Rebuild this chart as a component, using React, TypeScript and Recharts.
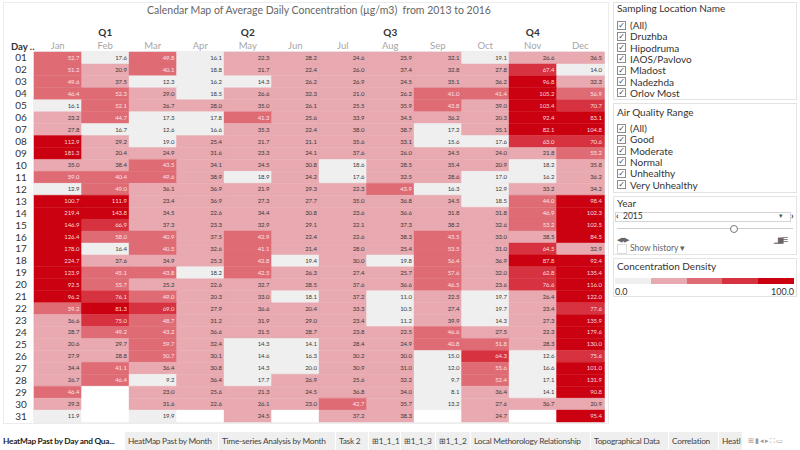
import React from 'react'
import { BarChart, Bar, XAxis, YAxis, Cell, LabelList, ReferenceArea } from 'recharts'

const FONT = 'Lato, "Open Sans", sans-serif'

const months = ['Jan', 'Feb', 'Mar', 'Apr', 'May', 'Jun', 'Jul', 'Aug', 'Sep', 'Oct', 'Nov', 'Dec']
const quarters = [
  { name: 'Q1', from: 'Jan', to: 'Mar' },
  { name: 'Q2', from: 'Apr', to: 'Jun' },
  { name: 'Q3', from: 'Jul', to: 'Sep' },
  { name: 'Q4', from: 'Oct', to: 'Dec' },
]
const days = ['01', '02', '03', '04', '05', '06', '07', '08', '09', '10', '11', '12', '13', '14', '15', '16',
  '17', '18', '19', '20', '21', '22', '23', '24', '25', '26', '27', '28', '29', '30', '31']

// average daily concentration, one list per month (null = no such day)
const jan = [52.7, 51.2, 49.6, 46.4, 16.1, 23.2, 27.8, 112.9, 181.3, 35.0, 59.0, 12.9, 100.7, 219.4, 146.9, 126.4,
  178.0, 224.7, 123.9, 92.5, 96.2, 59.2, 36.6, 28.7, 20.6, 27.9, 34.4, 26.7, 46.4, 29.3, 11.9]
const feb = [17.6, 20.9, 37.5, 52.3, 52.1, 44.7, 16.7, 29.2, 20.4, 38.4, 40.4, 49.0, 111.9, 143.8, 66.9, 58.0,
  16.4, 37.6, 45.1, 55.7, 76.1, 81.3, 75.0, 49.2, 29.7, 28.8, 41.1, 46.4, null, null, null]
const mar = [49.8, 40.1, 12.3, 29.0, 26.7, 17.3, 12.6, 19.0, 24.9, 43.5, 49.6, 36.1, 23.4, 34.5, 37.3, 40.9,
  40.5, 34.9, 43.8, 25.2, 49.0, 69.0, 48.7, 43.2, 59.7, 50.7, 36.4, 9.2, 23.0, 31.6, 19.9]
const apr = [16.1, 18.8, 16.2, 18.5, 28.0, 17.8, 16.6, 25.4, 31.6, 34.1, 38.9, 36.9, 36.9, 22.6, 23.3, 37.5,
  32.6, 25.3, 18.2, 22.6, 20.3, 27.9, 31.2, 36.6, 32.4, 30.1, 30.8, 36.4, 25.6, 22.6, null]
const may = [22.3, 21.7, 14.3, 26.6, 35.0, 41.3, 35.3, 21.7, 23.3, 24.5, 18.9, 21.9, 27.3, 34.4, 32.9, 42.9,
  41.1, 42.8, 42.5, 32.7, 33.0, 36.6, 31.9, 31.5, 14.3, 14.6, 14.3, 17.7, 21.3, 26.1, 24.5]
const jun = [28.2, 22.4, 26.2, 32.3, 26.1, 25.6, 22.4, 21.1, 24.1, 30.8, 24.2, 29.3, 27.7, 30.8, 29.1, 22.4,
  21.4, 19.4, 26.3, 28.5, 18.1, 20.4, 29.0, 28.7, 14.1, 16.3, 19.97, 26.9, 24.5, 23.0, null]
const jul = [24.6, 26.0, 26.9, 21.0, 25.5, 33.9, 38.0, 35.6, 37.6, 18.6, 17.6, 22.3, 35.0, 23.6, 22.1, 22.6,
  28.0, 30.0, 27.4, 37.6, 37.2, 33.3, 23.4, 23.8, 28.4, 30.2, 30.9, 25.6, 36.8, 42.7, 37.2]
const aug = [25.9, 37.4, 24.5, 26.2, 35.9, 34.5, 38.7, 33.1, 26.0, 28.5, 32.5, 43.9, 36.8, 36.6, 37.3, 38.3,
  25.4, 19.8, 25.7, 36.6, 11.0, 10.5, 11.2, 22.5, 24.9, 30.0, 31.0, 32.2, 34.0, 35.7, 38.3]
const sep = [32.1, 32.8, 35.1, 41.0, 43.8, 36.2, 17.2, 15.6, 24.5, 35.4, 28.6, 16.3, 24.5, 31.8, 38.2, 43.5,
  53.5, 56.4, 57.6, 46.5, 22.5, 27.4, 39.9, 46.6, 40.8, 15.0, 12.0, 9.7, 8.1, 13.2, null]
const oct = [19.1, 27.8, 36.2, 41.4, 39.0, 20.3, 35.1, 17.6, 24.0, 20.9, 17.0, 12.9, 18.5, 31.8, 32.6, 33.0,
  31.0, 36.9, 32.0, 23.6, 19.7, 19.7, 14.3, 27.5, 51.8, 64.3, 55.6, 52.4, 36.4, 27.6, 24.7]
const nov = [26.6, 67.4, 96.8, 105.2, 103.4, 92.4, 82.1, 63.0, 21.8, 18.2, 16.2, 33.2, 44.0, 46.9, 53.2, 38.5,
  64.5, 87.8, 62.8, 76.6, 26.4, 23.4, 27.3, 22.3, 28.3, 12.6, 16.6, 17.1, 14.1, 36.7, null]
const dec = [36.5, 14.0, 32.3, 56.9, 70.7, 83.1, 104.8, 70.6, 55.2, 35.8, 36.2, 34.2, 98.4, 102.3, 102.5, 84.5,
  32.9, 92.4, 135.4, 116.0, 122.0, 77.6, 135.9, 179.6, 130.0, 75.6, 101.0, 131.9, 90.8, 20.9, 95.4]
const monthValues = [jan, feb, mar, apr, may, jun, jul, aug, sep, oct, nov, dec]

const binEdges = [20, 40, 60, 80]
const binColors = ['#efefef', '#e8a9b0', '#df6b74', '#d6323f', '#cb0010']

const locations = ['(All)', 'Druzhba', 'Hipodruma', 'IAOS/Pavlovo', 'Mladost', 'Nadezhda', 'Orlov Most']
const aqRanges = ['(All)', 'Good', 'Moderate', 'Normal', 'Unhealthy', 'Very Unhealthy']
const tabs = [
  { label: 'HeatMap Past by Day and Qua...', left: 0, width: 125, active: true },
  { label: 'HeatMap Past by Month', left: 125, width: 93 },
  { label: 'Time-series Analysis by Month', left: 219, width: 116 },
  { label: 'Task 2', left: 336, width: 32 },
  { label: '⊞1_1_1', left: 369, width: 31 },
  { label: '⊞1_1_3', left: 401, width: 34 },
  { label: '⊞1_1_2', left: 436, width: 34 },
  { label: 'Local Methorology Relationship', left: 471, width: 119 },
  { label: 'Topographical Data', left: 591, width: 77 },
  { label: 'Correlation', left: 669, width: 49 },
  { label: 'Heatl', left: 719, width: 23 },
]

function binOf(v: number) {
  let b = 0
  while (b < binEdges.length && v >= binEdges[b]) b++
  return b
}
function colorFor(v: number | null) {
  return v == null ? '#ffffff' : binColors[binOf(v)]
}

// one row per month; every day is a unit segment of the stack, concentration kept alongside
const rows = months.map((m, mi) => {
  const row: Record<string, any> = { month: m }
  days.forEach((d, di) => {
    row['d' + d] = 1
    row['c' + d] = monthValues[mi][di]
  })
  return row
})

const dayTicks = days.map((_, i) => i + 0.5)

const renderCellLabel = (p: any) => {
  if (p.value == null) return null
  const dark = binOf(p.value) >= 2
  return (
    <text x={p.x + p.width - 2.5} y={p.y + p.height / 2} dy={2} textAnchor="end" fontSize={6}
      fontFamily={FONT} fill={dark ? 'rgba(255,255,255,0.85)' : '#3a3a3a'}>
      {p.value.toFixed(1)}
    </text>
  )
}

const MonthTick = (p: any) => (
  <text x={p.x} y={p.y - 3} textAnchor="middle" fontSize={9.5} fontFamily={FONT} fill="#a6a6a6">
    {p.payload.value}
  </text>
)

const DayTick = (p: any) => (
  <text x={p.x - 13} y={p.y} dy={3.5} textAnchor="middle" fontSize={10} fontFamily={FONT} fill="#333">
    {days[Math.floor(p.payload.value)]}
  </text>
)

function Check({ top, label }: { top: number, label: string }) {
  return (
    <div style={{ position: 'absolute', left: 617, top: top - 6, height: 12, display: 'flex', alignItems: 'center', fontSize: 10, color: '#333', whiteSpace: 'nowrap' }}>
      <span style={{ width: 9, height: 9, border: '1px solid #8c8c8c', boxSizing: 'border-box', fontSize: 8, lineHeight: '8px', textAlign: 'center', marginRight: 4, color: '#444', fontFamily: 'DejaVu Sans' }}>✓</span>
      <span>{label}</span>
    </div>
  )
}

const box = (top: number, height: number): React.CSSProperties => ({
  position: 'absolute', left: 613, top, width: 184, height, border: '1px solid #e3e3e3', boxSizing: 'border-box', background: '#fff',
})
const boxTitle = (top: number): React.CSSProperties => ({
  position: 'absolute', left: 617, top: top - 7, fontSize: 10, color: '#333', whiteSpace: 'nowrap',
})

export default function App() {
  return (
    <div style={{ position: 'absolute', left: 0, top: 0, width: 800, height: 450, background: '#fff', fontFamily: FONT, overflow: 'hidden' }}>
      <div style={{ position: 'absolute', left: 3, top: 2, width: 606, height: 422, border: '1px solid #ececec', boxSizing: 'border-box' }} />
      <div style={{ position: 'absolute', left: 34, width: 570, top: 4, textAlign: 'center', fontSize: 10.5, color: '#666', whiteSpace: 'pre' }}>
        {'Calendar Map of Average Daily Concentration (µg/m3)  from 2013 to 2016'}
      </div>
      <div style={{ position: 'absolute', left: 11, top: 41, fontSize: 9.5, fontWeight: 700, color: '#333' }}>Day ..</div>

      <div style={{ position: 'absolute', left: 0, top: 0 }}>
        <BarChart width={606} height={424} data={rows} margin={{ top: 22, right: 2, bottom: 2, left: 0 }}
          barCategoryGap={0} barGap={0}>
          <XAxis dataKey="month" orientation="top" height={30} axisLine={false} tickLine={false}
            tickSize={0} tickMargin={0} interval={0} tick={MonthTick} />
          <YAxis type="number" domain={[0, 31]} reversed ticks={dayTicks} interval={0} width={34}
            axisLine={false} tickLine={false} tickSize={0} tickMargin={0} tick={DayTick} allowDecimals />
          {days.map(d => (
            <Bar key={d} dataKey={'d' + d} stackId="cal" isAnimationActive={false}>
              {rows.map((r, mi) => {
                const c = colorFor(r['c' + d])
                return <Cell key={mi} fill={c} stroke={c} strokeWidth={0.4} />
              })}
              <LabelList dataKey={'c' + d} content={renderCellLabel} />
            </Bar>
          ))}
          {quarters.map(q => (
            <ReferenceArea key={q.name} x1={q.from} x2={q.to} fill="none" fillOpacity={0}
              stroke="#dcdcdc" strokeWidth={1} ifOverflow="visible"
              label={{ value: q.name, position: 'top', offset: 16, fill: '#333', fontSize: 10, fontWeight: 700, fontFamily: FONT }} />
          ))}
        </BarChart>
      </div>

      {/* filters */}
      <div style={box(2, 98)} />
      <div style={boxTitle(9)}>Sampling Location Name</div>
      {locations.map((l, i) => <Check key={l} top={25 + i * 11.3} label={l} />)}

      <div style={box(103, 90)} />
      <div style={boxTitle(113)}>Air Quality Range</div>
      {aqRanges.map((l, i) => <Check key={l} top={128 + i * 11.3} label={l} />)}

      <div style={box(196, 59)} />
      <div style={boxTitle(204)}>Year</div>
      <div style={{ position: 'absolute', left: 615, top: 212, width: 176, height: 10, border: '1px solid #d4d4d4', boxSizing: 'border-box' }} />
      <div style={{ position: 'absolute', left: 616, top: 210, fontSize: 9, color: '#333', fontWeight: 700 }}>‹</div>
      <div style={{ position: 'absolute', left: 623, top: 211, fontSize: 8.5, color: '#333' }}>2015</div>
      <div style={{ position: 'absolute', left: 779, top: 211, fontSize: 7, color: '#555' }}>▾</div>
      <div style={{ position: 'absolute', left: 791, top: 210, fontSize: 9, color: '#333', fontWeight: 700 }}>›</div>
      <div style={{ position: 'absolute', left: 617, top: 228, width: 176, height: 1, background: '#d0d0d0' }} />
      <div style={{ position: 'absolute', left: 730, top: 225, width: 6, height: 6, borderRadius: 4, border: '1px solid #777', background: '#fff' }} />
      <div style={{ position: 'absolute', left: 617, top: 235, fontSize: 7, color: '#666', letterSpacing: -1 }}>◀■▶</div>
      <div style={{ position: 'absolute', left: 774, top: 235, fontSize: 7, color: '#666', letterSpacing: -1 }}>▁▆☰</div>
      <div style={{ position: 'absolute', left: 617, top: 244, width: 10, height: 10, border: '1px solid #ddd', boxSizing: 'border-box' }} />
      <div style={{ position: 'absolute', left: 630, top: 243, fontSize: 8.5, color: '#666' }}>Show history ▾</div>

      <div style={box(258, 39)} />
      <div style={boxTitle(267)}>Concentration Density</div>
      <div style={{ position: 'absolute', left: 615, top: 278, width: 179, height: 6, display: 'flex' }}>
        {binColors.map(c => <div key={c} style={{ flex: 1, background: c }} />)}
      </div>
      <div style={{ position: 'absolute', left: 615, top: 286, fontSize: 9, color: '#333' }}>0.0</div>
      <div style={{ position: 'absolute', left: 740, width: 54, textAlign: 'right', top: 286, fontSize: 9, color: '#333' }}>100.0</div>

      {/* sheet tabs */}
      <div style={{ position: 'absolute', left: 0, top: 432, width: 800, height: 18, background: '#fff' }} />
      {tabs.map(t => (
        <div key={t.label} style={{
          position: 'absolute', left: t.left, top: 432, width: t.width, height: 18, boxSizing: 'border-box',
          background: t.active ? '#fff' : '#efefef',
          fontSize: 8.3, fontWeight: t.active ? 700 : 400, color: t.active ? '#222' : '#444', lineHeight: '18px',
          paddingLeft: t.active ? 3 : 3, whiteSpace: 'nowrap', letterSpacing: -0.25,
        }}>{t.label}</div>
      ))}
      <div style={{ position: 'absolute', left: 748, top: 436, fontSize: 7, color: '#999', letterSpacing: 1 }}>⊞▮◂▸⛶▭</div>
    </div>
  )
}
